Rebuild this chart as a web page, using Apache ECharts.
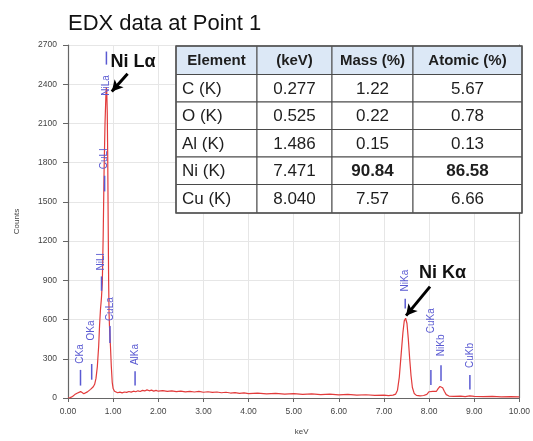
<!DOCTYPE html>
<html>
<head>
<meta charset="utf-8">
<script src="https://cdn.jsdelivr.net/npm/echarts@6/dist/echarts.min.js"></script>
<style>
  html, body { margin: 0; padding: 0; background: #fff; }
  #chart { width: 533px; height: 441px; }
</style>
</head>
<body>
<div id="chart"></div>
<script>
// spectrum (keV, counts)
var energy = [0.00,0.05,0.10,0.15,0.20,0.24,0.28,0.31,0.35,0.39,0.43,0.47,0.50,0.53,0.56,0.59,0.62,0.65,0.68,0.70,
  0.72,0.74,0.76,0.78,0.80,0.82,0.84,0.85,0.86,0.87,0.88,0.89,0.90,0.91,0.92,0.94,0.96,0.98,1.00,1.03,
  1.06,1.10,1.15,1.20,1.25,1.30,1.35,1.40,1.45,1.50,1.55,1.60,1.65,1.70,1.75,1.80,1.85,1.90,1.95,2.00,
  2.10,2.20,2.30,2.40,2.50,2.60,2.70,2.80,2.90,3.00,3.10,3.20,3.30,3.40,3.50,3.60,3.70,3.80,3.90,4.00,
  4.20,4.40,4.60,4.80,5.00,5.20,5.40,5.60,5.80,6.00,6.20,6.40,6.60,6.80,7.00,7.10,7.20,7.26,7.30,7.34,
  7.38,7.42,7.45,7.48,7.51,7.54,7.57,7.60,7.63,7.67,7.72,7.80,7.88,7.95,8.00,8.04,8.08,8.12,8.16,8.20,
  8.24,8.27,8.30,8.34,8.38,8.44,8.55,8.70,8.80,8.90,9.00,9.20,9.40,9.60,9.80,10.00];
var counts = [0,3,12,26,36,44,49,44,33,34,47,60,66,80,86,105,150,240,400,560,
  680,760,880,1250,1750,2100,2320,2375,2330,2180,1850,1350,900,640,540,400,240,120,72,52,
  44,40,45,39,46,43,50,45,52,48,55,50,58,54,62,55,60,53,58,52,
  57,50,55,49,53,47,51,46,50,44,48,43,46,40,44,38,41,36,39,34,
  37,32,35,30,33,28,31,26,29,24,27,22,25,20,22,18,22,30,60,160,
  330,500,590,610,570,450,300,170,80,35,20,16,19,28,48,56,50,40,50,72,
  88,90,78,50,26,15,12,14,11,16,12,10,12,9,11,8];

// peak markers: line energy, line bottom/top and label anchor (counts)
var markerNames = ['CKa','OKa','NiLl','CuLl','NiLa','CuLa','AlKa','NiKa','CuKa','NiKb','CuKb'];
var markerKeV = [0.277,0.525,0.743,0.811,0.851,0.930,1.486,7.471,8.040,8.264,8.904];
var markerLo = [95,140,820,1580,2550,420,95,685,100,130,65];
var markerHi = [215,260,930,1700,2650,550,205,760,215,250,175];
var markerLabelAt = [262,440,975,1750,2470,588,252,815,495,320,230];
var markerLabelBelow = [0,0,0,0,1,0,0,0,0,0,0];

// quantification table
var tableHeader = ['Element', '(keV)', 'Mass (%)', 'Atomic (%)'];
var tableElements = ['C (K)', 'O (K)', 'Al (K)', 'Ni (K)', 'Cu (K)'];
var tableKeV = ['0.277', '0.525', '1.486', '7.471', '8.040'];
var tableMass = ['1.22', '0.22', '0.15', '90.84', '7.57'];
var tableAtomic = ['5.67', '0.78', '0.13', '86.58', '6.66'];
var tableBold = [false, false, false, true, false];

var yTicks = [0, 300, 600, 900, 1200, 1500, 1800, 2100, 2400, 2700];

var font = 'Liberation Sans, Arial, sans-serif';
var markerColor = '#5a5ad2';

var chart = echarts.init(document.getElementById('chart'));

// table built as graphic elements
function buildTable() {
  var colX = [176, 257, 332, 413, 522];
  var rowY = [46, 74.5, 102, 129.5, 157, 184.5, 213];
  var els = [];
  var rows = [tableHeader];
  for (var r = 0; r < tableElements.length; r++) {
    rows.push([tableElements[r], tableKeV[r], tableMass[r], tableAtomic[r]]);
  }
  rows.forEach(function (row, r) {
    row.forEach(function (txt, c) {
      var x0 = colX[c], x1 = colX[c + 1], y0 = rowY[r], y1 = rowY[r + 1];
      els.push({
        type: 'rect', z: 10,
        shape: { x: x0, y: y0, width: x1 - x0, height: y1 - y0 },
        style: { fill: r === 0 ? '#dce8f6' : '#fff', stroke: '#4a4a4a', lineWidth: 1 }
      });
      var header = r === 0;
      var bold = header || (c >= 2 && tableBold[r - 1]);
      var leftAlign = !header && c === 0;
      els.push({
        type: 'text', z: 11,
        x: leftAlign ? x0 + 6 : (x0 + x1) / 2,
        y: (y0 + y1) / 2 + 1,
        style: {
          text: txt,
          fill: '#1e1e1e',
          font: (bold ? 'bold ' : '') + (header ? '15px ' : '17px ') + font,
          align: leftAlign ? 'left' : 'center',
          verticalAlign: 'middle'
        }
      });
    });
  });
  els.push({
    type: 'rect', z: 12,
    shape: { x: colX[0], y: rowY[0], width: colX[4] - colX[0], height: rowY[6] - rowY[0] },
    style: { fill: 'none', stroke: '#555', lineWidth: 1.5 }
  });
  return els;
}

function renderMarker(params, api) {
  var i = params.dataIndex;
  var x = api.coord([api.value(0), 0])[0];
  var lo = api.coord([0, api.value(1)])[1];
  var hi = api.coord([0, api.value(2)])[1];
  var ly = api.coord([0, api.value(3)])[1];
  var below = api.value(4) === 1;
  return {
    type: 'group',
    children: [
      { type: 'line', shape: { x1: x, y1: lo, x2: x, y2: hi }, style: { stroke: markerColor, lineWidth: 1.5 } },
      {
        type: 'text', x: x, y: ly, rotation: Math.PI / 2,
        style: {
          text: markerNames[i], fill: markerColor, font: '10px ' + font,
          align: below ? 'right' : 'left', verticalAlign: 'middle'
        }
      }
    ]
  };
}

var option = {
  animation: false,
  backgroundColor: '#fff',
  title: {
    text: 'EDX data at Point 1',
    left: 63,
    top: 8,
    textStyle: { fontSize: 22, fontWeight: 'normal', color: '#111', fontFamily: font }
  },
  grid: { left: 68, right: 10, top: 45, bottom: 41 },
  xAxis: {
    type: 'value',
    min: 0, max: 10, interval: 1,
    name: 'keV', nameLocation: 'middle', nameGap: 30,
    nameTextStyle: { fontSize: 8, color: '#444', fontFamily: font, padding: [0, 0, 0, 16] },
    axisLine: { lineStyle: { color: '#666', width: 1.2 } },
    axisTick: { show: true, length: 4, lineStyle: { color: '#666' } },
    axisLabel: { fontSize: 8.5, color: '#444', margin: 9, fontFamily: font,
      formatter: function (v) { return v.toFixed(2); } },
    splitLine: { show: true, lineStyle: { color: '#e6e6e6' } }
  },
  yAxis: [{
    type: 'value',
    min: yTicks[0], max: yTicks[yTicks.length - 1], interval: 300,
    name: 'Counts', nameLocation: 'middle', nameGap: 47,
    nameTextStyle: { fontSize: 8, color: '#444', fontFamily: font },
    axisLine: { show: true, lineStyle: { color: '#666', width: 1.2 } },
    axisTick: { show: true, length: 5, lineStyle: { color: '#666' } },
    axisLabel: { fontSize: 8.5, color: '#444', margin: 11, fontFamily: font,
      formatter: function (v) { return String(v); } },
    splitLine: { show: true, lineStyle: { color: '#e6e6e6' } }
  }, {
    type: 'value', position: 'right',
    min: 0, max: 2700,
    axisLine: { show: true, lineStyle: { color: '#666', width: 1.2 } },
    axisTick: { show: false }, axisLabel: { show: false }, splitLine: { show: false }
  }],
  series: [{
    name: 'spectrum',
    type: 'line',
    data: energy.map(function (e, i) { return [e, counts[i]]; }),
    showSymbol: false,
    smooth: false,
    lineStyle: { color: '#e23b3b', width: 1.2 },
    itemStyle: { color: '#e23b3b' },
    z: 3,
    markLine: {
      silent: true,
      symbol: ['none', 'arrow'],
      symbolSize: [9, 11],
      lineStyle: { color: '#000', width: 3, type: 'solid' },
      label: { show: false },
      data: [
        [{ coord: [1.32, 2480] }, { coord: [0.97, 2345] }],
        [{ coord: [8.02, 852] }, { coord: [7.49, 630] }]
      ]
    },
    markPoint: {
      silent: true,
      symbol: 'circle', symbolSize: 1,
      itemStyle: { color: 'rgba(0,0,0,0)' },
      label: { show: true, position: 'inside', fontSize: 18, fontWeight: 'bold', color: '#111', fontFamily: font,
        formatter: function (p) { return p.name; } },
      data: [
        { name: 'Ni L\u03b1', coord: [1.44, 2570] },
        { name: 'Ni K\u03b1', coord: [8.30, 955] }
      ]
    }
  }, {
    name: 'markers',
    type: 'custom',
    clip: false,
    z: 4,
    renderItem: renderMarker,
    data: markerKeV.map(function (k, i) {
      return [k, markerLo[i], markerHi[i], markerLabelAt[i], markerLabelBelow[i]];
    })
  }],
  graphic: buildTable()
};

chart.setOption(option);
</script>
</body>
</html>
